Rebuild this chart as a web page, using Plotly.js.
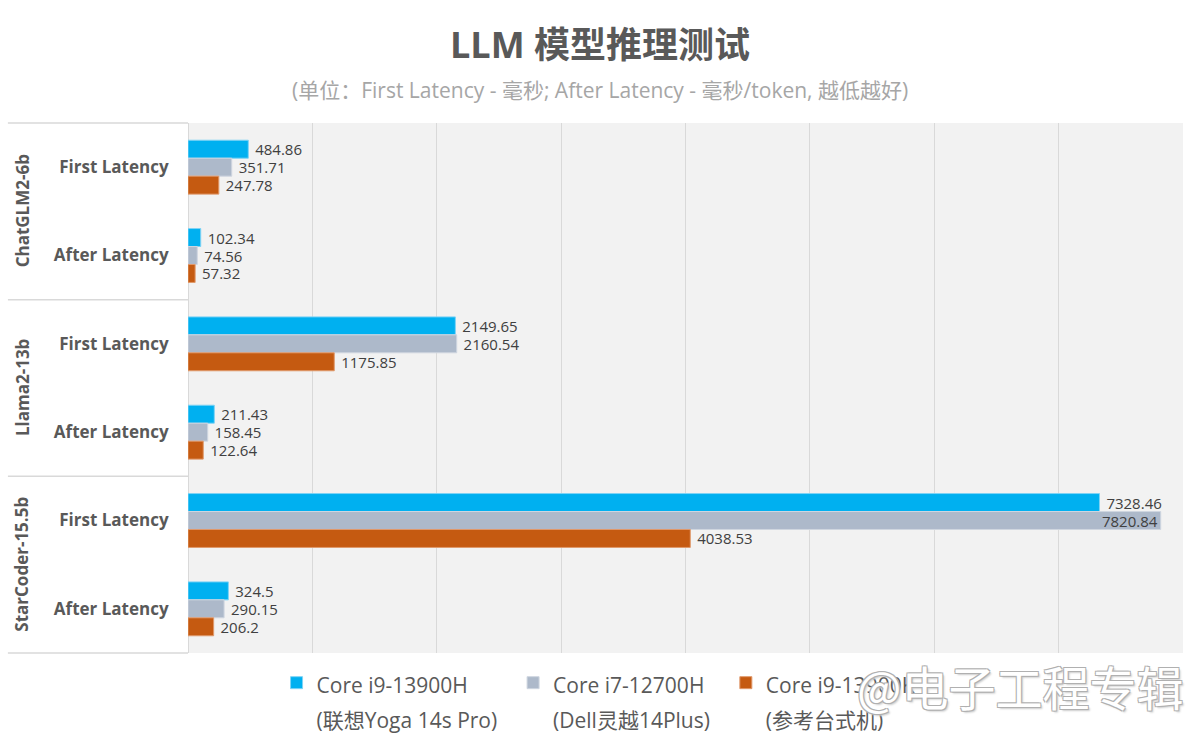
<!DOCTYPE html>
<html>
<head>
<meta charset="utf-8">
<script src="https://cdn.plot.ly/plotly-3.0.1.min.js"></script>
<style>html,body{margin:0;padding:0;background:#fff;}#chart{width:1200px;height:739px;}</style>
</head>
<body>
<div id="chart"></div>
<script>
// ---- data ----
const groups = ['ChatGLM2-6b', 'Llama2-13b', 'StarCoder-15.5b'];
const metrics = ['First Latency', 'After Latency'];
const cpuNames = ['Core i9-13900H', 'Core i7-12700H', 'Core i9-13900K'];
const deviceNames = ['(联想Yoga 14s Pro)', '(Dell灵越14Plus)', '(参考台式机)'];
const i9_13900H = [484.86, 102.34, 2149.65, 211.43, 7328.46, 324.5];
const i7_12700H = [351.71, 74.56, 2160.54, 158.45, 7820.84, 290.15];
const i9_13900K = [247.78, 57.32, 1175.85, 122.64, 4038.53, 206.2];
const titleText = 'LLM 模型推理测试';
const subtitleText = '(单位：First Latency - 毫秒; After Latency - 毫秒/token, 越低越好)';
const watermark = '@电子工程专辑';

// ---- styling ----
const colors = ['#00b0f0', '#adb9ca', '#c55a11'];
const lineColors = ['#7fd3f5', '#cfd6e0', '#e0996b'];
const FONT = 'Open Sans, Noto Sans CJK SC, sans-serif';
const XMAX = 8000;

const catIds = [];
const catText = [];
groups.forEach(g => metrics.forEach(m => { catIds.push(g + ' | ' + m); catText.push(m); }));

const seriesVals = [i9_13900H, i7_12700H, i9_13900K];
const NB = '\u00a0';
const traces = seriesVals.map((vals, i) => {
  const longest = deviceNames[i].length >= cpuNames[i].length;
  return {
    type: 'bar',
    orientation: 'h',
    name: '<span style="font-size:21px">' + cpuNames[i] + '</span><br><span style="font-size:21px">' + deviceNames[i] + NB + NB + '</span>',
    y: catIds,
    x: vals,
    text: vals.map(v => (v > XMAX * 0.94 ? String(v) : NB + String(v))),
    textposition: vals.map(v => (v > XMAX * 0.94 ? 'inside' : 'outside')),
    insidetextanchor: 'end',
    constraintext: 'none',
    cliponaxis: false,
    textfont: {family: FONT, size: 15, color: '#404040'},
    insidetextfont: {family: FONT, size: 15, color: '#404040'},
    outsidetextfont: {family: FONT, size: 15, color: '#404040'},
    marker: {color: colors[i], line: {color: lineColors[i], width: 1}},
    hoverinfo: 'x+name'
  };
});

const annotations = groups.map((g, gi) => ({
  text: g,
  xref: 'paper', yref: 'y',
  x: -0.1668, y: gi * 2 + 0.5,
  xanchor: 'center', yanchor: 'middle',
  textangle: -90,
  showarrow: false,
  font: {family: FONT, size: 17, color: '#595959', weight: 'bold'}
}));
annotations.push({
  text: subtitleText,
  xref: 'paper', yref: 'paper',
  x: (600 - 188) / 995, y: (653 - 90) / 530,
  xanchor: 'center', yanchor: 'middle',
  showarrow: false,
  font: {family: FONT, size: 21, color: '#a6a6a6'}
});
annotations.push({
  text: watermark,
  xref: 'paper', yref: 'paper',
  x: 1.002, y: -0.062,
  xanchor: 'right', yanchor: 'middle',
  showarrow: false,
  font: {family: 'Noto Sans CJK SC, sans-serif', size: 47, color: '#ffffff',
         shadow: '-1px -1px 0 #b0b0b0, 1px -1px 0 #b0b0b0, -1px 1px 0 #b0b0b0, 1px 1px 0 #b0b0b0, 2px 2px 2px #cccccc'}
});

const shapes = [1, 2/3, 1/3, 0].map(py => ({
  type: 'line', xref: 'paper', yref: 'paper',
  x0: -0.181, x1: 0, y0: py, y1: py,
  line: {color: '#d9d9d9', width: 1.5}
}));

const layout = {
  width: 1200, height: 739,
  paper_bgcolor: '#ffffff',
  plot_bgcolor: '#f2f2f2',
  margin: {l: 188, r: 17, t: 123, b: 86, autoexpand: false},
  font: {family: FONT, color: '#595959'},
  title: {
    text: titleText,
    x: 0.5, xref: 'container', xanchor: 'center',
    y: 0.939, yref: 'container', yanchor: 'middle',
    font: {family: FONT, size: 36, color: '#595959', weight: 'bold'}
  },
  barmode: 'group',
  bargap: 0.39,
  bargroupgap: 0,
  xaxis: {
    range: [0, XMAX], dtick: 1000, showticklabels: false,
    showgrid: true, gridcolor: '#d9d9d9', gridwidth: 1,
    zeroline: true, zerolinecolor: '#d9d9d9', zerolinewidth: 1,
    showline: false, fixedrange: true
  },
  yaxis: {
    type: 'category',
    categoryorder: 'array', categoryarray: catIds,
    tickvals: catIds, ticktext: catText,
    range: [5.5, -0.5], autorange: false,
    ticks: 'outside', ticklen: 15, tickcolor: 'rgba(0,0,0,0)',
    tickfont: {family: FONT, size: 17, color: '#595959', weight: 'bold'},
    showgrid: false, zeroline: false, showline: false, fixedrange: true
  },
  showlegend: true,
  legend: {
    orientation: 'h',
    x: 0.089, xanchor: 'left',
    y: -0.0106, yanchor: 'top',
    valign: 'top',
    traceorder: 'normal',
    font: {family: FONT, size: 27, color: '#595959'},
    bgcolor: 'rgba(0,0,0,0)'
  },
  annotations: annotations,
  shapes: shapes
};

Plotly.newPlot('chart', traces, layout, {displayModeBar: false, staticPlot: true});
</script>
</body>
</html>
